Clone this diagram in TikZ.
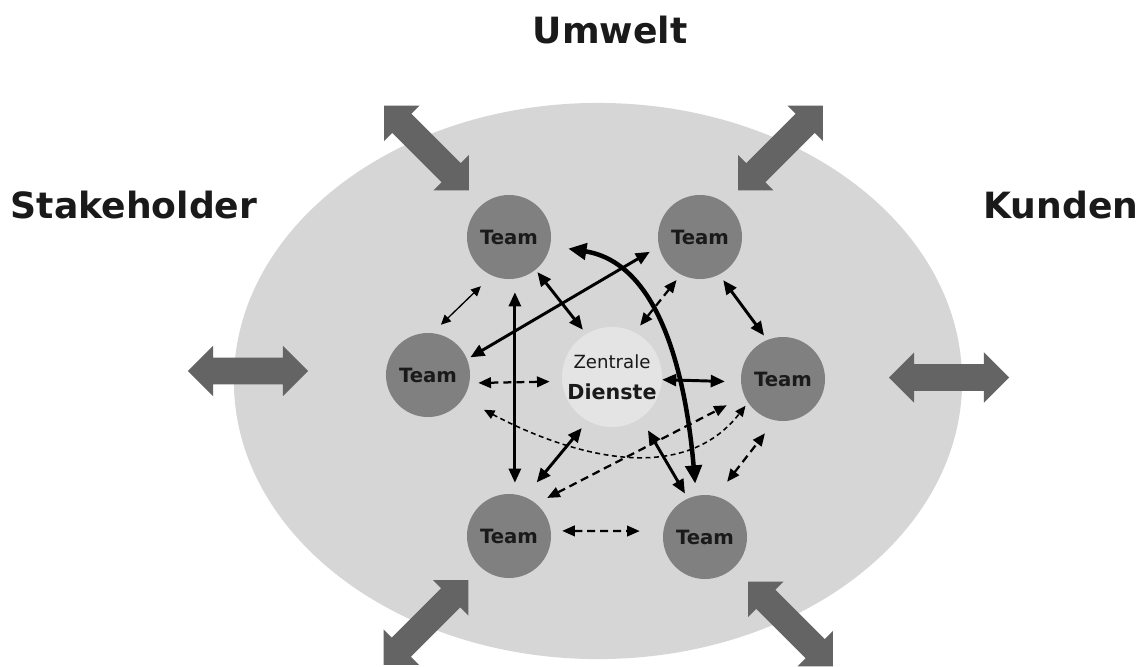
\documentclass[tikz,border=0pt]{standalone}
\usepackage{fontspec}
\setmainfont{DejaVu Sans}
\usetikzlibrary{arrows.meta,shapes.arrows}
\definecolor{ovalgray}{RGB}{214,214,214}
\definecolor{teamgray}{RGB}{128,128,128}
\definecolor{coregray}{RGB}{228,228,228}
\definecolor{arrowgray}{RGB}{100,100,100}
\definecolor{inkgray}{RGB}{26,26,26}

\begin{document}
\begin{tikzpicture}[x=0.025cm, y=-0.025cm,
    team/.style={circle, fill=teamgray, minimum size=2.1cm, inner sep=0pt,
        font=\fontsize{14}{16}\selectfont\bfseries, text=inkgray},
    core/.style={circle, fill=coregray, minimum size=2.5cm, inner sep=0pt,
        align=center, text=inkgray},
    sidetext/.style={font=\fontsize{25.7}{30}\selectfont\bfseries, text=inkgray},
    bigarrow/.style={double arrow, fill=arrowgray, inner xsep=0pt, inner ysep=0.33cm,
        minimum height=3cm, double arrow head extend=0.29cm, double arrow tip angle=90},
    thinlink/.style={line width=0.95pt, >={Triangle[length=7pt,width=6.5pt]}, <->},
    link/.style={line width=2.1pt, >={Triangle[length=10pt,width=8.5pt]}, <->},
    boldlink/.style={line width=3.2pt, >={Triangle[length=13pt,width=11.5pt]}, <->},
    dashlink/.style={line width=1.6pt, dash pattern=on 5.7pt off 3.5pt,
        >={Triangle[length=9pt,width=7.5pt]}, <->},
    thindash/.style={line width=1.1pt, dash pattern=on 3.5pt off 2.5pt,
        >={Triangle[length=7.5pt,width=6.5pt]}, <->}]

    % Page
    \useasboundingbox (0,0) rectangle (1142,666);
    \fill[white] (0,0) rectangle (1142,666);

    % Organisation
    \fill[ovalgray] (598,381) ellipse [x radius=9.1cm, y radius=6.95cm];

    % Outside world
    \node[sidetext] (umwelt) at (610,30) {Umwelt};
    \node[sidetext] (stake) at (134,205) {Stakeholder};
    \node[sidetext] (kunden) at (1061,205) {Kunden};

    % Exchange with the outside
    \node[bigarrow, rotate=-45] (xnw) at (426.5,148) {};
    \node[bigarrow, rotate=45] (xne) at (780.5,148) {};
    \node[bigarrow] (xw) at (248,371) {};
    \node[bigarrow] (xe) at (949,377.5) {};
    \node[bigarrow, rotate=45] (xsw) at (426,622.5) {};
    \node[bigarrow, rotate=-45] (xse) at (790.5,624) {};

    % Teams and central services
    \node[team] (tnw) at (509,237) {Team};
    \node[team] (tne) at (700,237) {Team};
    \node[team] (tw) at (428,375) {Team};
    \node[team] (te) at (783,379) {Team};
    \node[team] (tsw) at (509,536) {Team};
    \node[team] (tse) at (705,537) {Team};
    \node[core] (zd) at (612,377)
        {{\fontsize{12.9}{15}\selectfont Zentrale}\\[10pt]{\fontsize{14.7}{17}\selectfont\bfseries Dienste}};

    % Links
    \draw[thinlink, shorten <=0.38cm, shorten >=0.295cm] (tnw.246) -- (tw.84);
    \draw[link, shorten <=0.335cm, shorten >=0.285cm] (tnw.278) -- (tsw.82);
    \draw[link, shorten <=0.07cm, shorten >=0.13cm] (tnw.309) -- (zd.121);
    \draw[link, shorten <=0.09cm, shorten >=0.26cm] (tw.22) -- (tne.193);
    \draw[boldlink, shorten <=0.45cm, shorten >=0.3cm] (tnw.348) to[out=-9, in=95] (tse.102);
    \draw[dashlink, shorten <=0.17cm, shorten >=0.21cm] (tne.243) -- (zd.63);
    \draw[link, shorten <=0.17cm, shorten >=0.13cm] (tne.297) -- (te.112);
    \draw[dashlink, shorten <=0.22cm, shorten >=0.305cm] (tw.349) -- (zd.185);
    \draw[link, shorten >=0.4cm] (zd.357) -- (te.184);
    \draw[thindash, shorten <=0.59cm, shorten >=0.1cm] (tw.326) to[out=-28, in=232] (te.214);
    \draw[dashlink, shorten <=0.31cm, shorten >=0.495cm] (tsw.50) -- (te.204);
    \draw[link, shorten <=0.465cm, shorten >=0.23cm] (tsw.68) -- (zd.241);
    \draw[dashlink, shorten <=0.28cm, shorten >=0.585cm] (tsw.7) -- (tse.172);
    \draw[link, shorten <=0.35cm, shorten >=0.14cm] (zd.305) -- (tse.114);
    \draw[dashlink, shorten <=0.455cm, shorten >=0.405cm] (tse.75) -- (te.259);
\end{tikzpicture}
\end{document}
